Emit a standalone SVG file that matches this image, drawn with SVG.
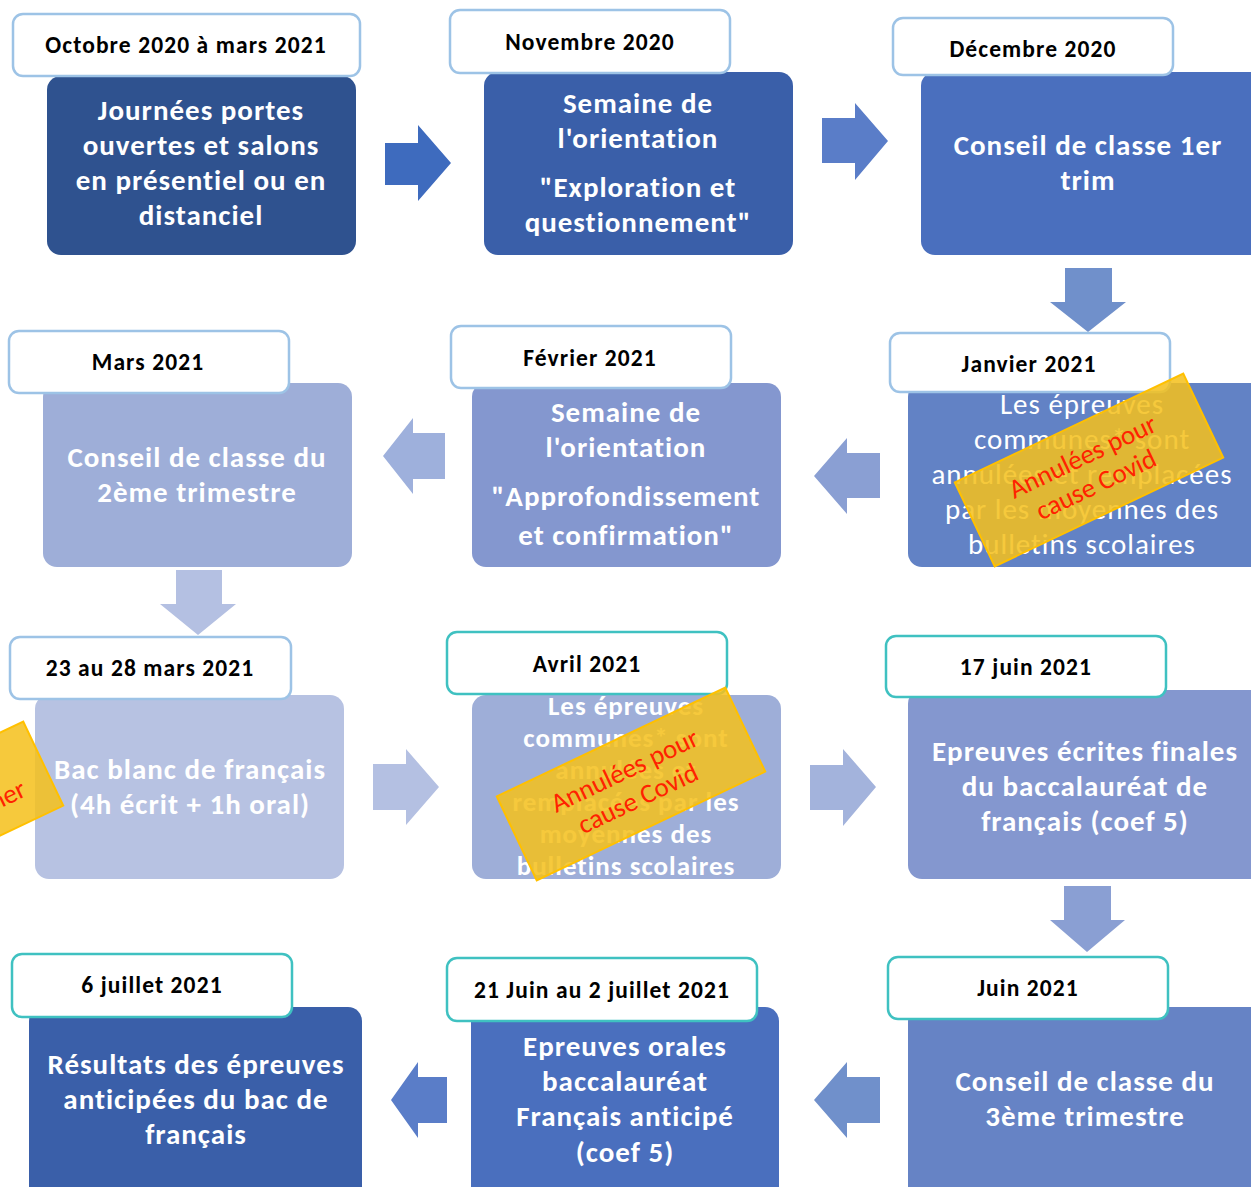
<svg xmlns="http://www.w3.org/2000/svg" width="1251" height="1187" viewBox="0 0 1251 1187">
<style>
  text { font-family: Carlito, Lato, "Liberation Sans", sans-serif; text-anchor: middle; }
  .date { font-size: 23.5px; font-weight: bold; fill: #000; letter-spacing: 1.1px; }
  .dbox { fill: #fff; stroke-width: 2.5; }
  .blue { stroke: #9dc3e6; }
  .teal { stroke: #3fc1c1; }
  .main { font-size: 29px; font-weight: bold; fill: #fff; letter-spacing: 1px; }
  .reg { font-weight: normal; }
  .av { font-size: 27px; }
  .stk rect { fill: #f4c01c; fill-opacity: 0.86; stroke: #ffc000; stroke-width: 2; }
  .stk text { font-size: 27px; fill: #ff2200; }
</style>
<rect width="1251" height="1187" fill="#fff"/>

<g id="connectors">
  <polygon points="385,143 418,143 418,125 451,163 418,201 418,185 385,185" fill="#3e6bbe"/>
  <polygon points="822,118 855,118 855,103 888,141 855,180 855,163 822,163" fill="#5a7dc8"/>
  <polygon points="1065,268 1112,268 1112,302 1126,302 1088,332 1050,302 1065,302" fill="#7090cb"/>
  <polygon points="814,476 847,438 847,453 880,453 880,498 847,498 847,514" fill="#8a9fd3"/>
  <polygon points="383,456 413,418 413,433 445,433 445,479 413,479 413,494" fill="#9eb0dc"/>
  <polygon points="176,570 222,570 222,604 236,604 198,635 160,604 176,604" fill="#b4c0e2"/>
  <polygon points="373,764 406,764 406,749 439,787 406,825 406,810 373,810" fill="#b4c0e2"/>
  <polygon points="810,765 843,765 843,749 876,787 843,826 843,810 810,810" fill="#a3b3dc"/>
  <polygon points="1064,886 1111,886 1111,920 1125,920 1087,952 1050,920 1064,920" fill="#8a9fd3"/>
  <polygon points="814,1100 847,1062 847,1077 880,1077 880,1123 847,1123 847,1138" fill="#7090cb"/>
  <polygon points="391,1100 418,1062 418,1077 447,1077 447,1123 418,1123 418,1138" fill="#5a7dc8"/>
</g>

<g id="node-oct2020">
  <rect x="47" y="76" width="309" height="179" rx="14" fill="#2f528f"/>
  <text class="main"><tspan x="201" y="120">Journées portes</tspan><tspan x="201" y="155">ouvertes et salons</tspan><tspan x="201" y="190">en présentiel ou en</tspan><tspan x="201" y="225">distanciel</tspan></text>
  <rect class="dbox blue" x="13" y="14" width="347" height="62" rx="10"/>
  <text class="date" x="186" y="53">Octobre 2020 à mars 2021</text>
</g>

<g id="node-nov2020">
  <rect x="484" y="72" width="309" height="183" rx="14" fill="#3a5fa9"/>
  <text class="main"><tspan x="638" y="113">Semaine de</tspan><tspan x="638" y="148">l'orientation</tspan><tspan x="638" y="197">"Exploration et</tspan><tspan x="638" y="232">questionnement"</tspan></text>
  <rect class="dbox blue" x="450" y="10" width="280" height="63" rx="10"/>
  <text class="date" x="590" y="50">Novembre 2020</text>
</g>

<g id="node-dec2020">
  <rect x="921" y="72" width="345" height="183" rx="14" fill="#4a6fbe"/>
  <text class="main"><tspan x="1088" y="155">Conseil de classe 1er</tspan><tspan x="1088" y="190">trim</tspan></text>
  <rect class="dbox blue" x="893" y="18" width="280" height="57" rx="10"/>
  <text class="date" x="1033" y="57">Décembre 2020</text>
</g>

<g id="node-jan2021">
  <rect x="908" y="383" width="358" height="184" rx="14" fill="#6282c5"/>
  <text class="main reg"><tspan x="1082" y="414">Les épreuves</tspan><tspan x="1082" y="449">communes* sont</tspan><tspan x="1082" y="484">annulées et remplacées</tspan><tspan x="1082" y="519">par les moyennes des</tspan><tspan x="1082" y="554">bulletins scolaires</tspan></text>
  <rect class="dbox blue" x="890" y="333" width="280" height="59" rx="10"/>
  <text class="date" x="1029" y="372">Janvier 2021</text>
</g>

<g id="node-fev2021">
  <rect x="472" y="383" width="309" height="184" rx="14" fill="#8497cf"/>
  <text class="main"><tspan x="626" y="422">Semaine de</tspan><tspan x="626" y="457">l'orientation</tspan><tspan x="626" y="506">"Approfondissement</tspan><tspan x="626" y="545">et confirmation"</tspan></text>
  <rect class="dbox blue" x="451" y="326" width="280" height="62" rx="10"/>
  <text class="date" x="590" y="366">Février 2021</text>
</g>

<g id="node-mars2021">
  <rect x="43" y="383" width="309" height="184" rx="14" fill="#9eaed8"/>
  <text class="main"><tspan x="197" y="467">Conseil de classe du</tspan><tspan x="197" y="502">2ème trimestre</tspan></text>
  <rect class="dbox blue" x="9" y="331" width="280" height="62" rx="10"/>
  <text class="date" x="148" y="370">Mars 2021</text>
</g>

<g id="node-bacblanc">
  <rect x="35" y="695" width="309" height="184" rx="14" fill="#b7c2e2"/>
  <text class="main"><tspan x="190" y="779">Bac blanc de français</tspan><tspan x="190" y="814">(4h écrit + 1h oral)</tspan></text>
  <rect class="dbox blue" x="10" y="637" width="281" height="62" rx="10"/>
  <text class="date" x="150" y="676">23 au 28 mars 2021</text>
</g>

<g id="node-avril2021">
  <rect x="472" y="695" width="309" height="184" rx="14" fill="#9eaed8"/>
  <text class="main av"><tspan x="626" y="715">Les épreuves</tspan><tspan x="626" y="747">communes* sont</tspan><tspan x="626" y="779">annulées et</tspan><tspan x="626" y="811">remplacées par les</tspan><tspan x="626" y="843">moyennes des</tspan><tspan x="626" y="875">bulletins scolaires</tspan></text>
  <rect class="dbox teal" x="447" y="632" width="280" height="62" rx="10"/>
  <text class="date" x="587" y="672">Avril 2021</text>
</g>

<g id="node-17juin2021">
  <rect x="908" y="690" width="358" height="189" rx="14" fill="#8497cf"/>
  <text class="main"><tspan x="1085" y="761">Epreuves écrites finales</tspan><tspan x="1085" y="796">du baccalauréat de</tspan><tspan x="1085" y="831">français (coef 5)</tspan></text>
  <rect class="dbox teal" x="886" y="636" width="280" height="61" rx="10"/>
  <text class="date" x="1026" y="675">17 juin 2021</text>
</g>

<g id="node-juin2021">
  <rect x="908" y="1007" width="358" height="200" rx="14" fill="#6683c5"/>
  <text class="main"><tspan x="1085" y="1091">Conseil de classe du</tspan><tspan x="1085" y="1126">3ème trimestre</tspan></text>
  <rect class="dbox teal" x="888" y="957" width="280" height="62" rx="10"/>
  <text class="date" x="1028" y="996">Juin 2021</text>
</g>

<g id="node-oraux2021">
  <rect x="471" y="1007" width="308" height="200" rx="14" fill="#4a6fbe"/>
  <text class="main"><tspan x="625" y="1056">Epreuves orales</tspan><tspan x="625" y="1091">baccalauréat</tspan><tspan x="625" y="1126">Français anticipé</tspan><tspan x="625" y="1162">(coef 5)</tspan></text>
  <rect class="dbox teal" x="447" y="958" width="310" height="63" rx="10"/>
  <text class="date" x="602" y="998">21 Juin au 2 juillet 2021</text>
</g>

<g id="node-resultats2021">
  <rect x="29" y="1007" width="333" height="200" rx="14" fill="#3a5fa9"/>
  <text class="main"><tspan x="196" y="1074">Résultats des épreuves</tspan><tspan x="196" y="1109">anticipées du bac de</tspan><tspan x="196" y="1144">français</tspan></text>
  <rect class="dbox teal" x="12" y="954" width="280" height="63" rx="10"/>
  <text class="date" x="152" y="993">6 juillet 2021</text>
</g>

<g id="sticker-janvier" class="stk" transform="translate(1089,470) rotate(-25.45)">
  <rect x="-126.5" y="-46.5" width="253" height="93"/>
  <text x="0" y="-6">Annulées pour</text>
  <text x="0" y="25">cause Covid</text>
</g>
<g id="sticker-avril" class="stk" transform="translate(631,784) rotate(-25.45)">
  <rect x="-126.5" y="-46.5" width="253" height="93"/>
  <text x="0" y="-6">Annulées pour</text>
  <text x="0" y="25">cause Covid</text>
</g>
<g id="sticker-mars" class="stk" transform="translate(-71,818) rotate(-25.45)">
  <rect x="-126.5" y="-46.5" width="253" height="93"/>
  <text x="99" y="22" style="text-anchor:end">ner</text>
</g>
</svg>
